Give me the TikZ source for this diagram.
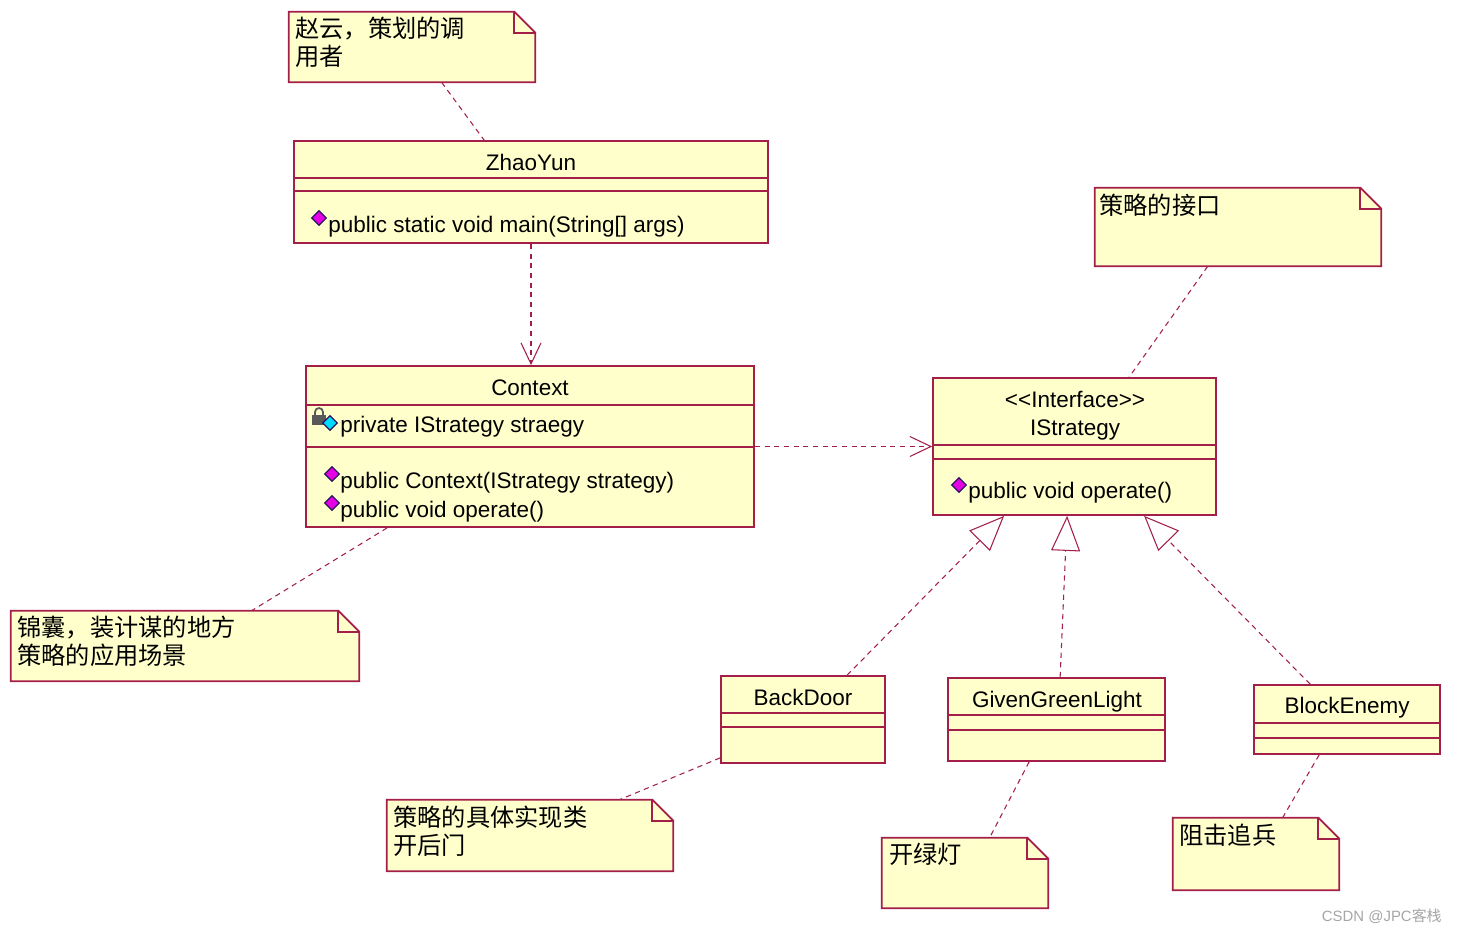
\documentclass[tikz,border=0pt]{standalone}
\usepackage{fontspec}
\setmainfont{Liberation Sans}
\newfontfamily\cjk{Noto Sans CJK SC}
\usepackage{tikz}
\usetikzlibrary{arrows.meta,positioning,fit,calc,shapes.geometric}
\definecolor{umlred}{RGB}{163,30,72}
\definecolor{umlfill}{RGB}{255,255,204}
\definecolor{opmagenta}{RGB}{230,0,230}
\definecolor{opnavy}{RGB}{40,20,90}
\definecolor{privcyan}{RGB}{0,220,255}

\begin{document}
\begin{tikzpicture}[
		x=0.02cm, y=-0.02cm,
		font=\fontsize{12.8}{15}\selectfont,
		umlclass/.style={draw=umlred, fill=umlfill, line width=1pt, inner sep=0pt},
		notearea/.style={inner sep=0pt},
		noteline/.style={draw=umlred, fill=umlfill, line width=1pt},
		compline/.style={umlred, line width=0.9pt},
		classname/.style={inner sep=0pt, anchor=base},
		member/.style={inner sep=0pt, anchor=base west},
		notetext/.style={inner sep=0pt, anchor=north west, align=left, font=\fontsize{13.8}{15.9}\selectfont\cjk},
		opmark/.style={diamond, draw=opnavy, fill=opmagenta, line width=0.7pt, inner sep=0pt, minimum size=0.3cm},
		attrmark/.style={opmark, fill=privcyan},
		notelink/.style={umlred, line width=0.6pt, dash pattern=on 3pt off 2.5pt},
		depend/.style={notelink, -{Straight Barb[length=0.42cm, width=0.4cm]}},
		realize/.style={notelink, -{Triangle[open, length=0.7cm, width=0.58cm]}}
		]
		\path[use as bounding box, fill=white] (0,0) rectangle (1457,933);
		
		% classes
		\node[umlclass, fit={(294,141) (768,243)}] (zhao) {};
		\draw[compline] (294,178) -- (768,178) (294,191) -- (768,191);
		\node[classname] (zhaoname) at (531,170) {ZhaoYun};
		\node[opmark] (zhaoop) at (319,218) {};
		\node[member] (zhaomain) at (328,232) {public static void main(String[] args)};
		
		\node[umlclass, fit={(306,366) (754,527)}] (ctx) {};
		\draw[compline] (306,405) -- (754,405) (306,447) -- (754,447);
		\node[classname] (ctxname) at (530,395) {Context};
		\fill[gray!70!black] (312,415) rectangle (326,425);
		\draw[gray!70!black, line width=1pt] (315,415) -- (315,412) arc[start angle=180, end angle=360, radius=4] -- (323,415);
		\node[attrmark] (ctxattr) at (330,423) {};
		\node[member] (ctxfield) at (340,432) {private IStrategy straegy};
		\node[opmark] (ctxop1) at (332,474) {};
		\node[member] (ctxctor) at (340,488) {public Context(IStrategy strategy)};
		\node[opmark] (ctxop2) at (332,503) {};
		\node[member] (ctxoperate) at (340,517) {public void operate()};
		
		\node[umlclass, fit={(933,378) (1216,515)}] (istr) {};
		\draw[compline] (933,445) -- (1216,445) (933,459) -- (1216,459);
		\node[classname] (istrstereo) at (1075,407) {<{}<Interface>{}>};
		\node[classname] (istrname) at (1075,435) {IStrategy};
		\node[opmark] (istrop) at (959,485) {};
		\node[member] (istroperate) at (968,498) {public void operate()};
		
		\node[umlclass, fit={(721,676) (885,763)}] (backdoor) {};
		\draw[compline] (721,713) -- (885,713) (721,727) -- (885,727);
		\node[classname] (backdoorname) at (803,705) {BackDoor};
		
		\node[umlclass, fit={(948,678) (1165,761)}] (green) {};
		\draw[compline] (948,715) -- (1165,715) (948,730) -- (1165,730);
		\node[classname] (greenname) at (1057,707) {GivenGreenLight};
		
		\node[umlclass, fit={(1254,685) (1440,754)}] (block) {};
		\draw[compline] (1254,723) -- (1440,723) (1254,738) -- (1440,738);
		\node[classname] (blockname) at (1347,713) {BlockEnemy};
		
		% notes
		\node[notearea, fit={(289,12) (535,82)}] (callernote) {};
		\filldraw[noteline] (callernote.south west) |- ($(callernote.north east)+(-21,0)$) -- ($(callernote.north east)+(0,21)$) -- (callernote.south east) -- cycle;
		\draw[noteline, fill=none] ($(callernote.north east)+(-21,0)$) |- ($(callernote.north east)+(0,21)$);
		\node[notetext] (callertext) at (295,17) {赵云，策划的调\\用者};
		
		\node[notearea, fit={(1095,188) (1381,266)}] (ifacenote) {};
		\filldraw[noteline] (ifacenote.south west) |- ($(ifacenote.north east)+(-21,0)$) -- ($(ifacenote.north east)+(0,21)$) -- (ifacenote.south east) -- cycle;
		\draw[noteline, fill=none] ($(ifacenote.north east)+(-21,0)$) |- ($(ifacenote.north east)+(0,21)$);
		\node[notetext] (ifacetext) at (1099,194) {策略的接口};
		
		\node[notearea, fit={(11,611) (359,681)}] (kitnote) {};
		\filldraw[noteline] (kitnote.south west) |- ($(kitnote.north east)+(-21,0)$) -- ($(kitnote.north east)+(0,21)$) -- (kitnote.south east) -- cycle;
		\draw[noteline, fill=none] ($(kitnote.north east)+(-21,0)$) |- ($(kitnote.north east)+(0,21)$);
		\node[notetext] (kittext) at (17,616) {锦囊，装计谋的地方\\策略的应用场景};
		
		\node[notearea, fit={(387,800) (673,871)}] (implnote) {};
		\filldraw[noteline] (implnote.south west) |- ($(implnote.north east)+(-21,0)$) -- ($(implnote.north east)+(0,21)$) -- (implnote.south east) -- cycle;
		\draw[noteline, fill=none] ($(implnote.north east)+(-21,0)$) |- ($(implnote.north east)+(0,21)$);
		\node[notetext] (impltext) at (393,806) {策略的具体实现类\\开后门};
		
		\node[notearea, fit={(882,838) (1048,908)}] (greennote) {};
		\filldraw[noteline] (greennote.south west) |- ($(greennote.north east)+(-21,0)$) -- ($(greennote.north east)+(0,21)$) -- (greennote.south east) -- cycle;
		\draw[noteline, fill=none] ($(greennote.north east)+(-21,0)$) |- ($(greennote.north east)+(0,21)$);
		\node[notetext] (greentext) at (889,843) {开绿灯};
		
		\node[notearea, fit={(1173,818) (1339,890)}] (blocknote) {};
		\filldraw[noteline] (blocknote.south west) |- ($(blocknote.north east)+(-21,0)$) -- ($(blocknote.north east)+(0,21)$) -- (blocknote.south east) -- cycle;
		\draw[noteline, fill=none] ($(blocknote.north east)+(-21,0)$) |- ($(blocknote.north east)+(0,21)$);
		\node[notetext] (blocktext) at (1179,824) {阻击追兵};
		
		% connectors
		\draw[notelink] ($(callernote.south west)+(153,0)$) -- ($(zhao.north west)+(191,0)$);
		\draw[depend] (zhao.south) -- (zhao.south |- ctx.north);
		\draw[depend] (ctx.east) -- (istr.west);
		\draw[notelink] ($(ifacenote.south west)+(113,0)$) -- ($(istr.north west)+(197,0)$);
		\draw[notelink] ($(ctx.south west)+(82,0)$) -- ($(kitnote.north west)+(241,0)$);
		\draw[realize] ($(backdoor.north west)+(127,0)$) -- ($(istr.south west)+(72,0)$);
		\draw[realize] ($(green.north west)+(113,0)$) -- ($(istr.south west)+(135,0)$);
		\draw[realize] ($(block.north west)+(57,0)$) -- ($(istr.south west)+(212,0)$);
		\draw[notelink] ($(backdoor.south west)+(0,-6)$) -- ($(implnote.north west)+(233,0)$);
		\draw[notelink] ($(green.south west)+(82,0)$) -- ($(greennote.north west)+(108,0)$);
		\draw[notelink] ($(block.south west)+(66,0)$) -- ($(blocknote.north west)+(110,0)$);
		
		\node[inner sep=0pt, anchor=base east, text=gray!70, font=\fontsize{8.5}{10}\selectfont] (mark) at (1442,921) {CSDN @JPC{\cjk 客栈}};
	\end{tikzpicture}
\end{document}
